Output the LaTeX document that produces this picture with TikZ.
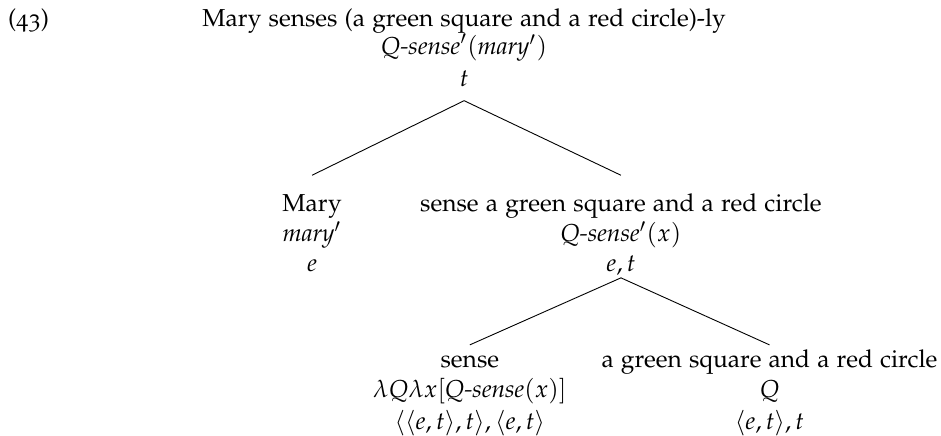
\documentclass[tikz,border=0pt]{standalone}
\usepackage[T1]{fontenc}
\usepackage[osf]{mathpazo}
\usepackage{amsmath}
\usepackage{tikz}

\begin{document}
\begin{tikzpicture}[
    every node/.append style={font=\fontsize{10.9pt}{13.6pt}\selectfont},
    tline/.style={anchor=base,inner sep=0pt},
    branch/.style={line width=0.4pt}]
    \useasboundingbox (0,0) rectangle (14.70,-6.81);
    \node[anchor=base west,inner sep=0pt] (exno) at (0.12,-0.42) {(43)};
    % root of the tree
    \node[tline] (root) at (7.25,-0.42) {Mary senses (a green square and a red circle)-ly};
    \node[tline] (root-sem) at ([yshift=-12.3pt]root.base) {$\textit{Q-sense}'(\textit{mary}')$};
    \node[tline] (root-type) at ([yshift=-14.3pt]root-sem.base) {$t$};
    % first split
    \node[tline] (subj) at (4.875,-3.30) {Mary};
    \node[tline] (subj-sem) at ([yshift=-13.6pt]subj.base) {$\textit{mary}'$};
    \node[tline] (subj-type) at ([yshift=-13.4pt]subj-sem.base) {$e$};
    \node[tline] (vp) at (9.70,-3.30) {sense a green square and a red circle};
    \node[tline] (vp-sem) at ([yshift=-13.6pt]vp.base) {$\textit{Q-sense}'(x)$};
    \node[tline] (vp-type) at ([yshift=-13.4pt]vp-sem.base) {$e,t$};
    % second split
    \node[tline] (verb) at (7.34,-5.735) {sense};
    \node[tline] (verb-sem) at ([yshift=-13.6pt]verb.base) {$\lambda Q\lambda x[\textit{Q-sense}(x)]$};
    \node[tline] (verb-type) at ([yshift=-14pt]verb-sem.base)
      {$\langle\langle e,t\rangle,t\rangle,\langle e,t\rangle$};
    \node[tline] (obj) at (12.02,-5.735) {a green square and a red circle};
    \node[tline] (obj-sem) at ([yshift=-13.6pt]obj.base) {$Q$};
    \node[tline] (obj-type) at ([yshift=-14pt]obj-sem.base) {$\langle e,t\rangle,t$};
    % branch ends
    \coordinate (root-foot) at ([yshift=-6.2pt]root-type.base);
    \coordinate (subj-head) at ([yshift=16pt]subj.base);
    \coordinate (vp-head) at ([yshift=16pt]vp.base);
    \coordinate (vp-foot) at ([yshift=-2.6pt]vp-type.base);
    \coordinate (verb-head) at ([yshift=9.9pt]verb.base);
    \coordinate (obj-head) at ([yshift=9.9pt]obj.base);
    \draw[branch] (root-foot) -- (subj-head);
    \draw[branch] (root-foot) -- (vp-head);
    \draw[branch] (vp-foot) -- (verb-head);
    \draw[branch] (vp-foot) -- (obj-head);
  \end{tikzpicture}
\end{document}
